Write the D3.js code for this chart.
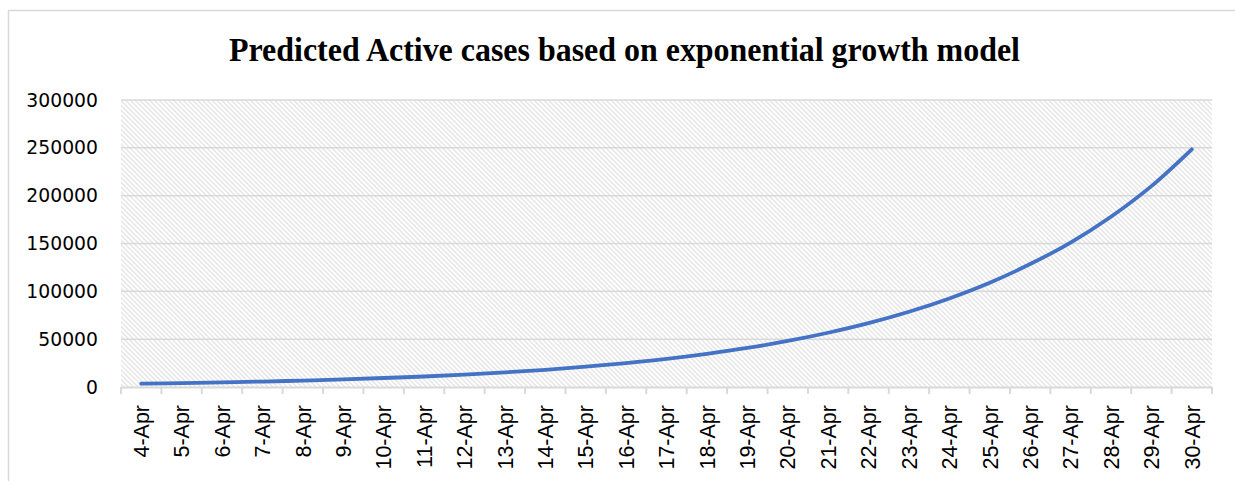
<!DOCTYPE html>
<html>
<head>
<meta charset="utf-8">
<script src="https://cdn.jsdelivr.net/npm/d3@7"></script>
<style>
	body { margin: 0; background: #fff; }
	svg { display: block; }
</style>
</head>
<body>
<div id="chart_container"></div>
<script>

// data
// ----------------------------------------

var dates = ["4-Apr","5-Apr","6-Apr","7-Apr","8-Apr","9-Apr","10-Apr","11-Apr","12-Apr",
	"13-Apr","14-Apr","15-Apr","16-Apr","17-Apr","18-Apr","19-Apr","20-Apr","21-Apr",
	"22-Apr","23-Apr","24-Apr","25-Apr","26-Apr","27-Apr","28-Apr","29-Apr","30-Apr"];

var active_cases = [3500, 4100, 4900, 5700, 6700, 7900, 9400, 11000, 13000,
	15300, 18000, 21200, 25000, 29400, 34700, 40800, 48100, 56700,
	66700, 78600, 92600, 109000, 128500, 151000, 178000, 210000, 248500];

var y_ticks = [0, 50000, 100000, 150000, 200000, 250000, 300000];

var title = "Predicted Active cases based on exponential growth model";

// main variables
// ----------------------------------------

var width = 1235,
	height = 481;

var margin = {top: 100, right: 23, bottom: 94, left: 121};

var svg = d3.select("#chart_container")
	.append("svg")
	.attr("width", width)
	.attr("height", height);

// hatch pattern for the plot area
var defs = svg.append("defs");
var pattern = defs.append("pattern")
	.attr("id", "hatch")
	.attr("patternUnits", "userSpaceOnUse")
	.attr("width", 3.4)
	.attr("height", 3.4)
	.attr("patternTransform", "rotate(-45)");
pattern.append("rect")
	.attr("width", 3.4).attr("height", 3.4)
	.attr("fill", "#fff");
pattern.append("line")
	.attr("x1", 0.8).attr("y1", 0)
	.attr("x2", 0.8).attr("y2", 3.4)
	.attr("stroke", "#e2e2e2")
	.attr("stroke-width", 1.3);

// outer frame
svg.append("rect")
	.attr("x", 8.5)
	.attr("y", 10.5)
	.attr("width", 1240)
	.attr("height", 500)
	.attr("fill", "none")
	.attr("stroke", "#d9d9d9")
	.attr("stroke-width", 1.5);

// title
svg.append("text")
	.attr("x", 229)
	.attr("y", 61)
	.attr("textLength", 791)
	.attr("lengthAdjust", "spacingAndGlyphs")
	.style("font-family", "'Liberation Serif', 'Times New Roman', serif")
	.style("font-weight", "bold")
	.style("font-size", "34px")
	.attr("fill", "#000")
	.text(title);

// scales
// ----------------------------------------

var x = d3.scaleBand()
	.domain(dates)
	.range([margin.left, width - margin.right]);

var y = d3.scaleLinear()
	.domain([0, 300000])
	.range([height - margin.bottom, margin.top]);

var plot = svg.append("g").attr("id", "d3_plot");

// plot area background
plot.append("rect")
	.attr("x", x.range()[0])
	.attr("y", y(300000))
	.attr("width", x.range()[1] - x.range()[0])
	.attr("height", y(0) - y(300000))
	.attr("fill", "url(#hatch)");

// horizontal gridlines
plot.append("g")
	.attr("class", "grid")
	.selectAll("line")
	.data(y_ticks.filter(function(d){ return d > 0; }))
	.enter()
	.append("line")
	.attr("x1", x.range()[0])
	.attr("x2", x.range()[1])
	.attr("y1", function(d){ return y(d); })
	.attr("y2", function(d){ return y(d); })
	.attr("stroke", "#d9d9d9")
	.attr("stroke-width", 1.5);

// y axis labels
var y_axis = plot.append("g")
	.attr("transform", "translate(98,0)")
	.call(d3.axisLeft(y).tickValues(y_ticks).tickSize(0).tickPadding(0).tickFormat(d3.format("d")));
y_axis.select(".domain").remove();
y_axis.selectAll("text")
	.style("font-family", "'DejaVu Sans', sans-serif")
	.style("font-size", "18.8px")
	.attr("fill", "#000");

// x axis
var x_axis = plot.append("g")
	.attr("transform", "translate(0," + y(0) + ")")
	.call(d3.axisBottom(x).tickSize(0).tickPadding(0));
x_axis.select(".domain")
	.attr("stroke", "#d9d9d9")
	.attr("stroke-width", 2);
x_axis.selectAll("text")
	.attr("transform", "rotate(-90)")
	.attr("text-anchor", "end")
	.attr("x", -18)
	.attr("y", 0)
	.attr("dy", "0.36em")
	.style("font-family", "'Liberation Sans', Arial, sans-serif")
	.style("font-size", "21.5px")
	.attr("fill", "#000");

// tick marks at category boundaries
var boundaries = dates.map(function(d){ return x(d); }).concat([x.range()[1]]);
x_axis.append("g")
	.selectAll("line")
	.data(boundaries)
	.enter()
	.append("line")
	.attr("x1", function(d){ return d; })
	.attr("x2", function(d){ return d; })
	.attr("y1", 0)
	.attr("y2", 7)
	.attr("stroke", "#d9d9d9")
	.attr("stroke-width", 2);

// line
var line = d3.line()
	.x(function(d, i){ return x(dates[i]) + x.bandwidth() / 2; })
	.y(function(d){ return y(d); })
	.curve(d3.curveCatmullRom);

plot.append("path")
	.datum(active_cases)
	.attr("d", line)
	.attr("fill", "none")
	.attr("stroke", "#4472c4")
	.attr("stroke-width", 3.8)
	.attr("stroke-linecap", "round");

</script>
</body>
</html>
